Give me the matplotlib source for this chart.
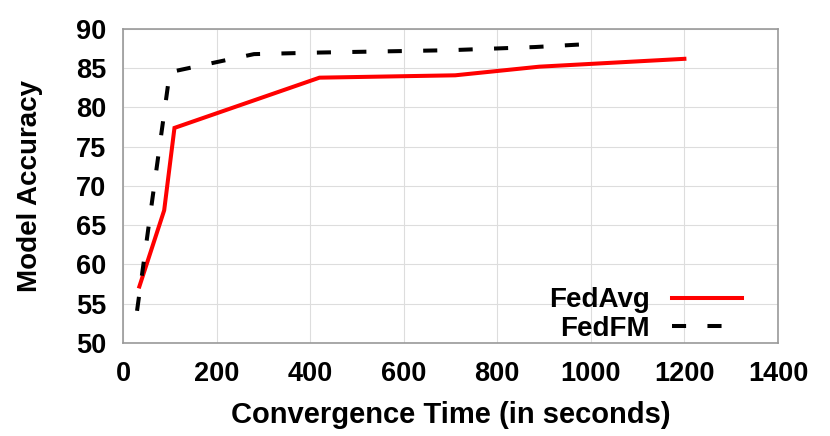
import matplotlib
matplotlib.use("Agg")
import matplotlib.pyplot as plt

# ======================== DATOS ========================
# FedAvg (linea roja continua)
fedavg_t = [35, 88, 110, 420, 710, 890, 1200]
fedavg_acc = [57.2, 66.9, 77.4, 83.8, 84.1, 85.2, 86.2]

# FedFM (linea negra discontinua)
fedfm_t = [30, 100, 280, 420, 700, 880, 1000]
fedfm_acc = [54.1, 84.5, 86.8, 87.0, 87.3, 87.7, 88.1]

xticks = [0, 200, 400, 600, 800, 1000, 1200, 1400]
yticks = [50, 55, 60, 65, 70, 75, 80, 85, 90]

# ======================== GRAFICO ========================
plt.rcParams['font.family'] = ['Liberation Sans', 'DejaVu Sans']
plt.rcParams['font.weight'] = 'bold'

fig = plt.figure(figsize=(8.3, 4.36), dpi=100)
ax = fig.add_axes([0.1482, 0.2133, 0.7891, 0.7202])

ax.plot(fedavg_t, fedavg_acc, color='red', linewidth=2.9, label='FedAvg',
        solid_joinstyle='miter')
ax.plot(fedfm_t, fedfm_acc, color='black', linewidth=2.9, label='FedFM',
        linestyle=(0, (3.5, 5.3)), dash_capstyle='butt')

ax.set_xlim(0, 1400)
ax.set_ylim(50, 90)
ax.set_xticks(xticks)
ax.set_yticks(yticks)
ax.tick_params(axis='x', length=0, labelsize=19.5, pad=13)
ax.tick_params(axis='y', length=0, labelsize=19.5, pad=12)
for lab in ax.get_xticklabels() + ax.get_yticklabels():
    lab.set_fontweight('bold')

# rejilla gris clara
ax.grid(True, color='#dddddd', linewidth=0.8)
ax.set_axisbelow(True)
for s in ax.spines.values():
    s.set_color('#999999')
    s.set_linewidth(1.2)

ax.set_xlabel('Convergence Time (in seconds)', fontsize=21, fontweight='bold', labelpad=10)
ax.set_ylabel('Model Accuracy', fontsize=20, fontweight='bold', labelpad=24)

# leyenda sin marco, texto a la izquierda de la linea
leg = ax.legend(loc='lower right', bbox_to_anchor=(0.983, -0.077), frameon=False,
                markerfirst=False, fontsize=20, handlelength=2.5,
                handletextpad=0.8, labelspacing=0.1)
for t in leg.get_texts():
    t.set_fontweight('bold')

fig.savefig('out.png', dpi=100)
